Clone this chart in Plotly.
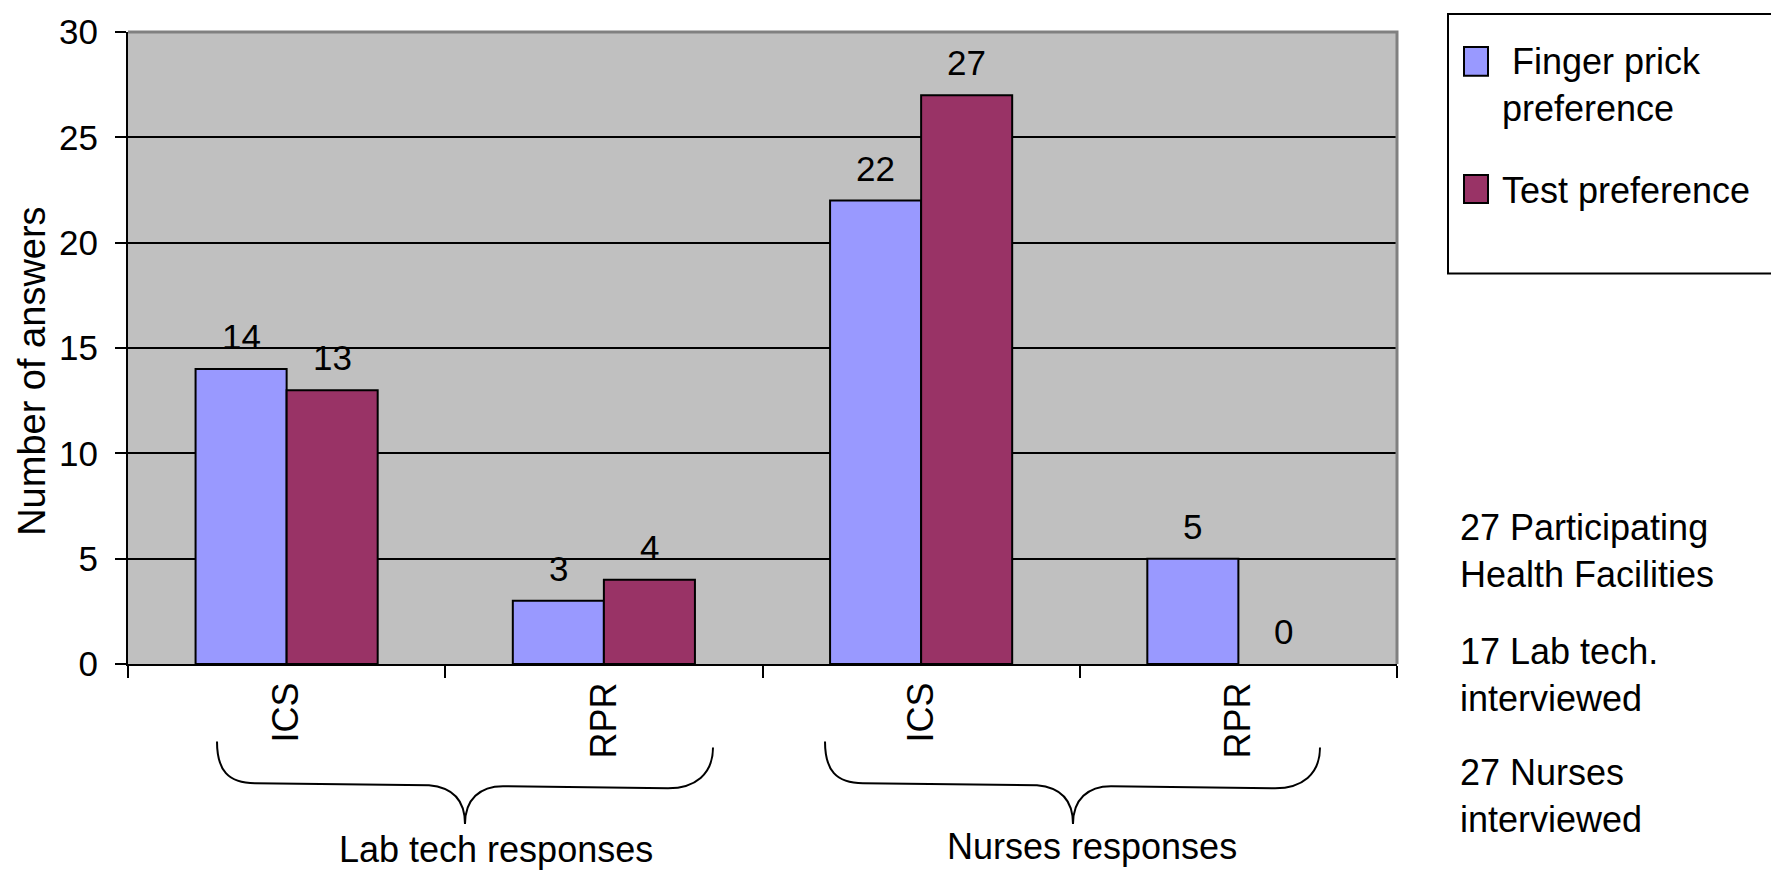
import plotly.graph_objects as go

# ---- data -------------------------------------------------------------
groups = ["Lab tech responses", "Nurses responses"]
categories = ["ICS", "RPR", "ICS", "RPR"]
series_names = [" Finger prick<br>preference", "Test preference"]
finger_prick = [14, 3, 22, 5]
test_pref = [13, 4, 27, 0]
y_ticks = [0, 5, 10, 15, 20, 25, 30]
facts = [
    "27 Participating<br>Health Facilities",
    "17 Lab tech.<br>interviewed",
    "27 Nurses<br>interviewed",
]

# ---- layout constants --------------------------------------------------
W, H = 1771, 871
L, R, T, B = 128, 1397, 28, 664          # plot area edges in pixels
FONT = "Liberation Sans, Arial, sans-serif"
BLUE, PLUM = "#9999FF", "#993366"
PANEL, EDGE = "#C0C0C0", "#808080"
BARGAP = 0.426
colors = [BLUE, PLUM]


def px(x):
    return (x - L) / (R - L)


def py(y):
    return (B - y) / (B - T)


def font(size=36):
    return dict(family=FONT, size=size, color="black")


xs = list(range(len(categories)))
fig = go.Figure()

for vals, name, color in zip([finger_prick, test_pref], series_names, colors):
    fig.add_trace(go.Bar(
        x=xs, y=vals, name=name.replace("<br>", " ").strip(),
        marker=dict(color=color,
                    line=dict(color="black", width=[2 if v else 0 for v in vals])),
        showlegend=False, hoverinfo="y",
    ))

# value labels above each bar
bw = (1 - BARGAP) / 2
for k, vals in enumerate([finger_prick, test_pref]):
    for i, v in enumerate(vals):
        fig.add_annotation(
            x=i + (k - 0.5) * bw, y=v, xref="x", yref="y",
            text=str(v), showarrow=False, yanchor="bottom", yshift=11,
            font=font(35),
        )

shapes = []

# grey frame on the top and right of the plotting area
shapes.append(dict(
    type="path", xref="paper", yref="paper", layer="above",
    path=f"M {px(L)},{py(T)} L {px(R)},{py(T)} L {px(R)},{py(B)}",
    line=dict(color=EDGE, width=3),
))


def brace(xl, xr, xt, yl, yr, yline_l, yline_r, ytip):
    """Curly brace opening upwards, tip pointing down at xt."""
    p = [
        f"M {px(xl)},{py(yl)}",
        f"C {px(xl)},{py(yline_l - 13)} {px(xl + 11)},{py(yline_l)} {px(xl + 38)},{py(yline_l)}",
        f"L {px(xt - 36)},{py(yline_l + 2)}",
        f"C {px(xt - 14)},{py(yline_l + 4)} {px(xt)},{py(yline_l + 16)} {px(xt)},{py(ytip)}",
        f"C {px(xt)},{py(yline_r + 13)} {px(xt + 15)},{py(yline_r)} {px(xt + 38)},{py(yline_r)}",
        f"L {px(xr - 45)},{py(yline_r + 2)}",
        f"C {px(xr - 18)},{py(yline_r + 2)} {px(xr)},{py(yline_r - 12)} {px(xr)},{py(yr)}",
    ]
    return dict(type="path", xref="paper", yref="paper", path=" ".join(p),
                line=dict(color="black", width=2))


shapes.append(brace(217, 713, 465, 742, 748, 784, 787, 825))
shapes.append(brace(825, 1320, 1073, 742, 748, 784, 787, 825))

# legend frame and swatches
shapes.append(dict(type="rect", xref="paper", yref="paper",
                   x0=px(1448), x1=px(1778), y0=py(271), y1=py(10),
                   line=dict(color="black", width=2), fillcolor="white"))
swatch_y = [(43, 72), (172, 200)]
for (y0, y1), color in zip(swatch_y, colors):
    shapes.append(dict(type="rect", xref="paper", yref="paper",
                       x0=px(1464), x1=px(1488), y0=py(y1), y1=py(y0),
                       line=dict(color="black", width=2), fillcolor=color))

label_pos = [(1500, 81), (1500, 187)]
for (lx, ly), name in zip(label_pos, series_names):
    fig.add_annotation(x=px(lx), y=py(ly), xref="paper", yref="paper",
                       text=name, showarrow=False, xanchor="left", yanchor="middle",
                       align="left", font=font(36))

# group labels under the braces
for gx, gy, g in zip([496, 1092], [851, 848], groups):
    fig.add_annotation(x=px(gx), y=py(gy), xref="paper", yref="paper",
                       text=g, showarrow=False, xanchor="center", yanchor="middle",
                       font=font(36))

# side notes
for fy, txt in zip([550, 675, 797], facts):
    fig.add_annotation(x=px(1458), y=py(fy), xref="paper", yref="paper",
                       text=txt, showarrow=False, xanchor="left", yanchor="middle",
                       align="left", font=font(36))

# y axis title
fig.add_annotation(x=px(32), y=py(370), xref="paper", yref="paper",
                   text="Number of answers", textangle=-90, showarrow=False,
                   xanchor="center", yanchor="middle", font=font(38))

fig.update_layout(
    width=W, height=H, autosize=False,
    margin=dict(l=L, r=W - R, t=T, b=H - B, pad=0),
    paper_bgcolor="white", plot_bgcolor=PANEL,
    barmode="group", bargap=BARGAP, bargroupgap=0,
    shapes=shapes, showlegend=False,
    font=font(36),
)

fig.update_xaxes(
    range=[-0.5, 3.5], tickmode="array", tickvals=xs, ticktext=categories,
    tickangle=-90, ticks="", showline=True, linecolor="black", linewidth=2,
    showgrid=False, zeroline=False, tickfont=font(36), ticklabelstandoff=2,
    minor=dict(tickmode="array", tickvals=[-0.5, 0.5, 1.5, 2.5, 3.5],
               ticks="outside", ticklen=12, tickwidth=2, tickcolor="black",
               showgrid=False),
)
fig.update_yaxes(
    range=[0, 30], tickmode="array", tickvals=y_ticks,
    ticks="outside", ticklen=11, tickwidth=2, tickcolor="black",
    showline=True, linecolor="black", linewidth=2,
    showgrid=True, gridcolor="black", gridwidth=2, zeroline=False,
    tickfont=font(35), ticklabelstandoff=10,
)

fig.write_html("out.html")
